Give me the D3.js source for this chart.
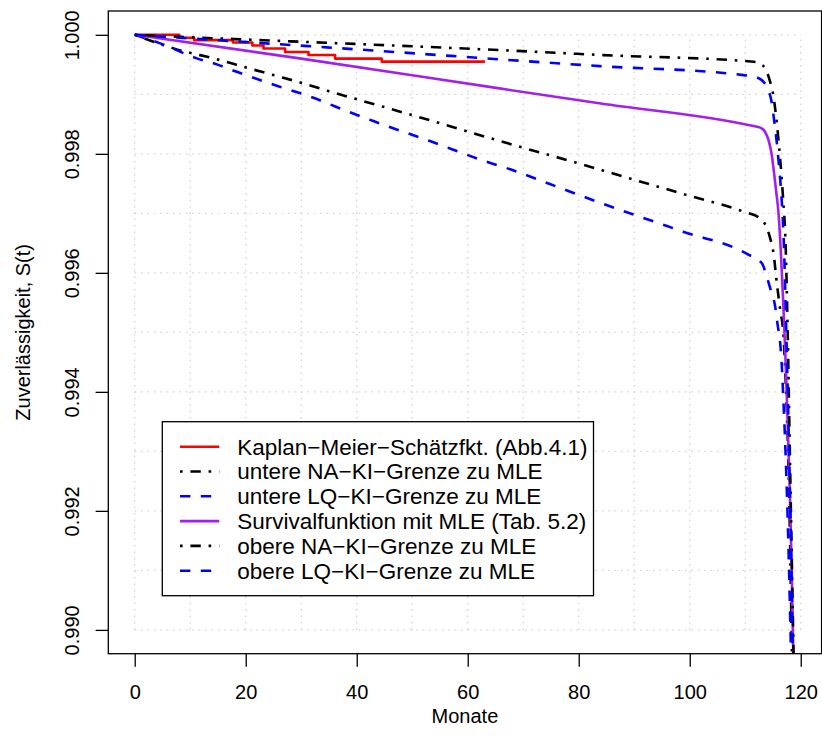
<!DOCTYPE html>
<html>
<head>
<meta charset="utf-8">
<script src="https://cdn.jsdelivr.net/npm/d3@7"></script>
<style>
  html, body { margin: 0; padding: 0; background: #fff; }
  svg { display: block; }
  text { font-family: "Liberation Sans", Arial, Helvetica, sans-serif; fill: #000; }
</style>
</head>
<body>
<svg id="chart" width="822" height="751"></svg>
<script>
// ---------- data ----------
// Kaplan-Meier estimate (step function)
const kmT = [0, 8.0, 10.7, 17.7, 21.2, 23.2, 27.1, 31.3, 36.1, 44.5, 63.1];
const kmS = [1.00000, 0.99995, 0.99991, 0.99987, 0.99982, 0.99977, 0.99971, 0.99966, 0.99960, 0.99955, 0.99955];

// Survival function with MLE
const mleT = [0, 30, 66, 84, 111.5, 112.7, 113.5, 114.2, 114.8, 115.2, 115.6, 116.0, 116.4, 116.8, 117.2, 117.5, 117.8, 118.1, 118.4, 118.7];
const mleS = [1.0, 0.999600, 0.999095, 0.998845, 0.998466, 0.998440, 0.998380, 0.998230, 0.997970, 0.997670, 0.997350, 0.997000, 0.996380, 0.995600, 0.994700, 0.993900, 0.993020, 0.992100, 0.990900, 0.989400];

// lower NA confidence bound
const naLoT = [0, 7, 15.4, 20.2, 25, 29.8, 34.9, 44.8, 54.7, 64.6, 69.7, 79.6, 89.8, 99.6, 109.7, 112.7, 113.8, 114.5, 115.1, 115.7, 116.3, 116.9, 117.3, 117.8, 118.45];
const naLoS = [1.0, 0.999772, 0.999575, 0.999446, 0.999323, 0.999200, 0.999054, 0.998790, 0.998522, 0.998248, 0.998110, 0.997850, 0.997570, 0.997305, 0.997027, 0.996915, 0.996775, 0.996580, 0.996330, 0.995820, 0.995380, 0.994930, 0.994140, 0.992700, 0.989400];

// lower LQ confidence bound
const lqLoT = [0, 4.6, 11.2, 14.8, 18.4, 25.6, 32.2, 35.8, 43.0, 53.2, 63.4, 67.8, 74.8, 85.0, 95.9, 98.8, 110.4, 113.0, 113.9, 114.6, 115.4, 115.8, 116.3, 116.6, 116.9, 117.2, 117.7, 118.3];
const lqLoS = [1.0, 0.999856, 0.999604, 0.999503, 0.999378, 0.999143, 0.998942, 0.998807, 0.998550, 0.998214, 0.997867, 0.997735, 0.997492, 0.997139, 0.996786, 0.996691, 0.996314, 0.996160, 0.995930, 0.995710, 0.995430, 0.995150, 0.994820, 0.994420, 0.993810, 0.993140, 0.991700, 0.989400];

// upper NA confidence bound
const naUpT = [0, 8.2, 22.6, 34.6, 65.8, 84.4, 111.5, 112.8, 113.6, 114.4, 115.1, 115.7, 116.1, 116.5, 116.8, 117.3, 117.65, 118.0, 118.35, 118.75];
const naUpS = [1.0, 0.999966, 0.999911, 0.999866, 0.999743, 0.999659, 0.999547, 0.999510, 0.999435, 0.999240, 0.998960, 0.998510, 0.998120, 0.997670, 0.997280, 0.996400, 0.995000, 0.993200, 0.991400, 0.989400];

// upper LQ confidence bound
const lqUpT = [0, 11.2, 20.2, 26.8, 34.6, 83.8, 109.7, 112.1, 113.3, 114.2, 114.8, 115.2, 115.7, 116.1, 116.4, 117.0, 117.4, 117.9, 118.25, 118.6];
const lqUpS = [1.0, 0.999932, 0.999877, 0.999837, 0.999789, 0.999474, 0.999323, 0.999284, 0.999210, 0.999070, 0.998850, 0.998570, 0.998180, 0.997780, 0.997450, 0.996380, 0.995000, 0.993020, 0.991400, 0.989400];

const xTicks = [0, 20, 40, 60, 80, 100, 120];
const yTicks = [0.990, 0.992, 0.994, 0.996, 0.998, 1.000];
const xGrid = [0, 10, 20, 30, 40, 50, 60, 70, 80, 90, 100, 110, 120];
const yGrid = [0.990, 0.991, 0.992, 0.993, 0.994, 0.995, 0.996, 0.997, 0.998, 0.999, 1.000];

const legendLabels = [
  "Kaplan\u2212Meier\u2212Schätzfkt. (Abb.4.1)",
  "untere NA\u2212KI\u2212Grenze zu MLE",
  "untere LQ\u2212KI\u2212Grenze zu MLE",
  "Survivalfunktion mit MLE (Tab. 5.2)",
  "obere NA\u2212KI\u2212Grenze zu MLE",
  "obere LQ\u2212KI\u2212Grenze zu MLE"
];
const xLabel = "Monate";
const yLabel = "Zuverlässigkeit, S(t)";

// ---------- layout ----------
const plotL = 108.3, plotR = 821.6, plotT = 11, plotB = 653.7;
const FS = 20;
const LEG_FS = 22.5;
const LW = 2.6;
const dashStyle = "10.4,10.4";
const dotDashStyle = "2.6,7.8,10.4,7.8";

const series = [
  {t: kmT,   s: kmS,   color: "#FF0000", dash: null,        step: true},
  {t: naLoT, s: naLoS, color: "#000000", dash: dotDashStyle},
  {t: lqLoT, s: lqLoS, color: "#0000FF", dash: dashStyle},
  {t: mleT,  s: mleS,  color: "#A020F0", dash: null},
  {t: naUpT, s: naUpS, color: "#000000", dash: dotDashStyle},
  {t: lqUpT, s: lqUpS, color: "#0000FF", dash: dashStyle}
];

const svg = d3.select("#chart");
const x = d3.scaleLinear().domain([-4.76, 123.76]).range([plotL, plotR]);
const y = d3.scaleLinear().domain([0.9896, 1.0004]).range([plotB, plotT]);

svg.append("defs").append("clipPath").attr("id", "clip")
  .append("rect").attr("x", plotL).attr("y", plotT)
  .attr("width", plotR - plotL).attr("height", plotB - plotT);

// grid
const grid = svg.append("g").attr("stroke", "#d3d3d3").attr("stroke-width", 1.3)
  .attr("stroke-dasharray", "1.6,4.8").attr("fill", "none");
grid.selectAll("line.h").data(yGrid).join("line").attr("class", "h")
  .attr("x1", x(0)).attr("x2", x(120)).attr("y1", d => y(d)).attr("y2", d => y(d));
grid.selectAll("line.v").data(xGrid).join("line").attr("class", "v")
  .attr("y1", y(0.990)).attr("y2", y(1.000)).attr("x1", d => x(d)).attr("x2", d => x(d));

// curves
const plotG = svg.append("g").attr("clip-path", "url(#clip)");
series.forEach(sr => {
  const pts = sr.t.map((t, i) => [t, sr.s[i]]);
  const line = d3.line().x(d => x(d[0])).y(d => y(d[1]))
    .curve(sr.step ? d3.curveStepAfter : d3.curveMonotoneX);
  plotG.append("path").datum(pts)
    .attr("d", line)
    .attr("fill", "none")
    .attr("stroke", sr.color)
    .attr("stroke-width", LW)
    .attr("stroke-linejoin", "round")
    .attr("stroke-dasharray", sr.dash);
});

// axes
const xAxis = svg.append("g").attr("transform", `translate(0,${plotB})`)
  .call(d3.axisBottom(x).tickValues(xTicks).tickSize(13).tickPadding(18.4).tickFormat(d3.format("d")));
xAxis.select(".domain").remove();
xAxis.selectAll("line").attr("stroke", "#000").attr("stroke-width", 1.3);
xAxis.selectAll("text").style("font-size", FS + "px").style("font-family", "Liberation Sans, Arial, sans-serif").attr("fill", "#000");

const yAxis = svg.append("g").attr("transform", `translate(${plotL},0)`)
  .call(d3.axisLeft(y).tickValues(yTicks).tickSize(12.7).tickFormat(d3.format(".3f")));
yAxis.select(".domain").remove();
yAxis.selectAll("line").attr("stroke", "#000").attr("stroke-width", 1.3);
yAxis.selectAll("text")
  .attr("x", null).attr("dy", null)
  .attr("text-anchor", "middle")
  .attr("transform", `translate(${79 - plotL},0) rotate(-90)`)
  .style("font-size", FS + "px").style("font-family", "Liberation Sans, Arial, sans-serif").attr("fill", "#000");

// plot frame
svg.append("rect").attr("x", plotL).attr("y", plotT)
  .attr("width", plotR - plotL).attr("height", plotB - plotT)
  .attr("fill", "none").attr("stroke", "#000").attr("stroke-width", 1.3);

// axis titles
svg.append("text").attr("x", (plotL + plotR) / 2).attr("y", 723)
  .attr("text-anchor", "middle").style("font-size", FS + "px").text(xLabel);
svg.append("text").attr("transform", `translate(30,${(plotT + plotB) / 2}) rotate(-90)`)
  .attr("text-anchor", "middle").style("font-size", FS + "px").text(yLabel);

// legend
const legX = 162.3, legY = 421.7, rowH = 24.8, firstRow = 446.7;
const legG = svg.append("g");
const box = legG.append("rect").attr("x", legX).attr("y", legY)
  .attr("fill", "#fff").attr("stroke", "#000").attr("stroke-width", 1.3);
let maxW = 0;
series.forEach((sr, i) => {
  const cy = firstRow + i * rowH;
  legG.append("line").attr("x1", 180).attr("x2", 219.3).attr("y1", cy).attr("y2", cy)
    .attr("stroke", sr.color).attr("stroke-width", LW).attr("stroke-dasharray", sr.dash);
  const tx = legG.append("text").attr("x", 237.3).attr("y", cy).attr("dy", "0.35em")
    .style("font-size", LEG_FS + "px").text(legendLabels[i]);
  maxW = Math.max(maxW, tx.node().getComputedTextLength());
});
box.attr("width", 237.3 + maxW + 6 - legX).attr("height", firstRow + 5 * rowH + 25 - legY);
</script>
</body>
</html>
